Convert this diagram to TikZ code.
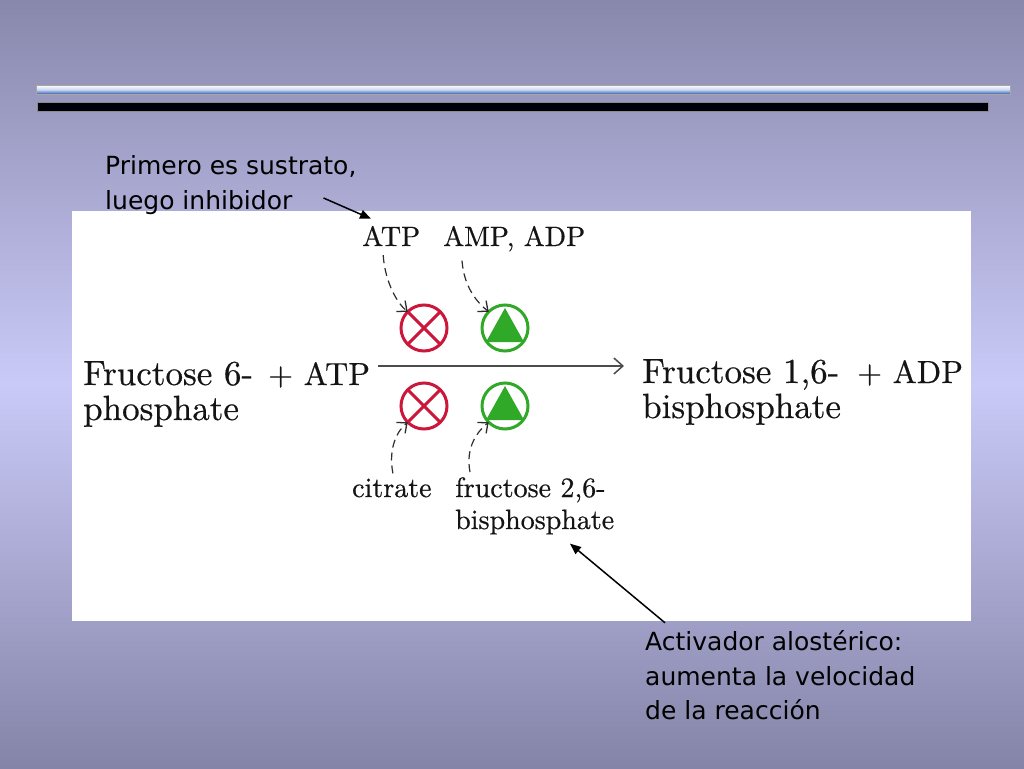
\documentclass[tikz,border=0pt]{standalone}
\usepackage{fontspec}
\newfontfamily\annotfont{DejaVu Sans}
\newfontfamily\lmten{lmroman10-regular.otf}[FakeBold=0.5]
\usetikzlibrary{arrows.meta,calc}
\definecolor{bgtop}{RGB}{136,136,172}
\definecolor{bgmid}{RGB}{202,202,248}
\definecolor{bgbot}{RGB}{132,132,168}
\definecolor{barblue}{RGB}{58,96,182}
\definecolor{inhred}{RGB}{204,22,58}
\definecolor{actgreen}{RGB}{48,168,40}
\definecolor{txt}{RGB}{20,20,20}
\definecolor{dashgray}{RGB}{45,45,45}
\tikzset{
  ann/.style={font=\annotfont\fontsize{25}{30}\selectfont, inner sep=0pt, anchor=base west, text=black},
  big/.style={font=\lmten\fontsize{35}{40}\selectfont, inner sep=0pt, anchor=base west, text=txt},
  plus/.style={font=\lmten\fontsize{32}{40}\selectfont, inner sep=0pt, anchor=base west, text=txt},
  small/.style={font=\lmten\fontsize{28}{33}\selectfont, inner sep=0pt, anchor=base west, text=txt},
  inh/.style={circle, draw=inhred, line width=3pt, minimum size=46pt, inner sep=0pt, outer sep=0pt},
  actv/.style={circle, draw=actgreen, line width=3pt, minimum size=46pt, inner sep=0pt, outer sep=0pt},
  effarrow/.style={draw=dashgray, line width=1.2pt, dash pattern=on 8pt off 5pt, -{Straight Barb[length=8pt,width=14pt,line width=1.3pt]}},
  notearrow/.style={draw=black, line width=1.5pt, -{Triangle[length=11pt,width=9pt]}},
  mainarrow/.style={draw=black!70, line width=1.6pt, -{Straight Barb[length=9pt,width=16pt,line width=1.5pt]}}
}
\begin{document}
\begin{tikzpicture}[x=1pt,y=-1pt]
\useasboundingbox (0,0) rectangle (1024,768);
% background
\shade[top color=bgtop, bottom color=bgbot, middle color=bgmid] (0,0) rectangle (1024,768);
% title bars
\shade[top color=white, bottom color=barblue, middle color={rgb,255:red,205;green,218;blue,242}, draw=black!35, line width=0.5pt] (36,85) rectangle (1010,94);
\fill[black!95!blue, draw=black!45, line width=0.5pt] (37,102) rectangle (988,111);
% white panel
\fill[white] (72,211) rectangle (971,621);

% main equation
\node[big] (f6a) at (83,385) {Fructose 6-};
\node[big] (f6b) at (83,420) {phosphate};
\node[plus] (patp) at (268,385) {+ ATP};
\node[big] (f16a) at (642,383) {Fructose 1,6-};
\node[big] (f16b) at (642,418) {bisphosphate};
\node[plus] (padp) at (857,383) {+ ADP};

% effectors
\node[small] (atp) at (362,246) {ATP};
\node[small] (amp) at (443,246) {AMP, ADP};
\node[small] (cit) at (352,497) {citrate};
\node[small] (fr26) at (455,497) {fructose 2,6-};
\node[small] (bis) at (455,529) {bisphosphate};

% circles
\node[inh] (r1) at (424,328) {};
\node[inh] (r2) at (424,406) {};
\node[actv] (g1) at (505,328) {};
\node[actv] (g2) at (505,406) {};
\foreach \c in {r1,r2}{
  \draw[inhred, line width=3pt] (\c.north west) -- (\c.south east);
  \draw[inhred, line width=3pt] (\c.north east) -- (\c.south west);
}
\foreach \c in {g1,g2}{
  \fill[actgreen] ($(\c.center)+(0,-20)$) -- ($(\c.center)+(19,14)$) -- ($(\c.center)+(-19,14)$) -- cycle;
}

% main reaction arrow
\coordinate (ms) at ($(patp.base east)+(8,-19)$);
\coordinate (me) at ($(f16a.base west)+(-18,-17)$);
\draw[mainarrow] (ms) -- (me);

% dashed effector arrows
\draw[effarrow] ($(atp.south)+(-8,9)$) .. controls +(2,28) and +(-10,-8) .. (r1.north west);
\draw[effarrow] ($(amp.south west)+(19,9)$) .. controls +(2,28) and +(-10,-8) .. (g1.north west);
\draw[effarrow] ($(cit.north)+(1,-5)$) .. controls +(-5,-26) and +(-10,8) .. (r2.south west);
\draw[effarrow] ($(fr26.north west)+(15,-5)$) .. controls +(-5,-26) and +(-10,8) .. (g2.south west);

% annotations
\node[ann] (n1a) at (105,174) {Primero es sustrato,};
\node[ann] (n1b) at (105,209) {luego inhibidor};
\node[ann] (n2a) at (645,650) {Activador alostérico:};
\node[ann] (n2b) at (645,685) {aumenta la velocidad};
\node[ann] (n2c) at (645,719) {de la reacción};

\draw[notearrow] ($(n1b.base east)+(31,-11)$) -- ($(atp.north west)+(9,-7)$);
\draw[notearrow] ($(n2a.north west)+(20,-7)$) -- ($(bis.south west)+(115,9)$);
\end{tikzpicture}
\end{document}
